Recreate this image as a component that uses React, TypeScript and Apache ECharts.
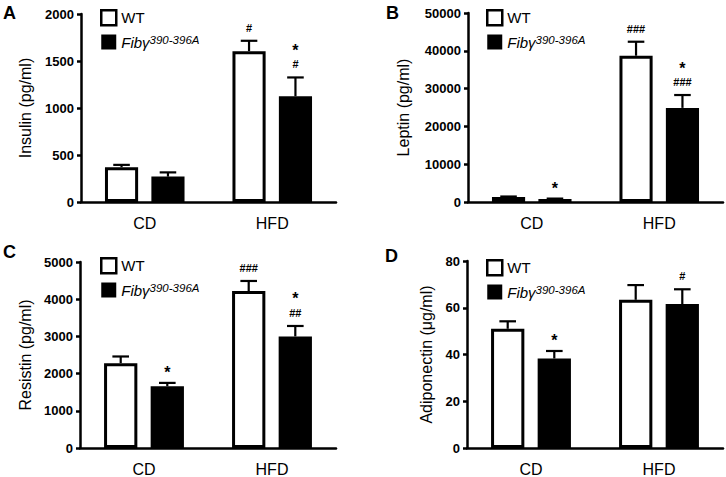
import React, { useEffect, useRef } from "react";
import * as echarts from "echarts";

const categories = ["CD", "HFD"];
const seriesNames = ["WT", "Fibγ390-396A"];

// Panel A – Insulin
const insulinWT = [370, 1605];
const insulinWTErr = [25, 110];
const insulinFib = [270, 1125];
const insulinFibErr = [45, 200];
const insulinWTSig = [[], ["#"]];
const insulinFibSig = [[], ["#", "*"]];

// Panel B – Leptin
const leptinWT = [1300, 38700];
const leptinWTErr = [150, 3700];
const leptinFib = [800, 24900];
const leptinFibErr = [100, 3400];
const leptinWTSig = [[], ["###"]];
const leptinFibSig = [["*"], ["###", "*"]];

// Panel C – Resistin
const resistinWT = [2280, 4220];
const resistinWTErr = [180, 270];
const resistinFib = [1660, 3000];
const resistinFibErr = [90, 280];
const resistinWTSig = [[], ["###"]];
const resistinFibSig = [["*"], ["##", "*"]];

// Panel D – Adiponectin
const adipoWT = [51, 63.4];
const adipoWTErr = [3.2, 6.3];
const adipoFib = [38.3, 61.6];
const adipoFibErr = [3.2, 6.3];
const adipoWTSig = [[], []];
const adipoFibSig = [["*"], ["#"]];

const yTitles = ["Insulin (pg/ml)", "Leptin (pg/ml)", "Resistin (pg/ml)", "Adiponectin (μg/ml)"];
const yMax = [2000, 50000, 5000, 80];
const yInterval = [500, 10000, 1000, 20];
const panelLetters = ["A", "B", "C", "D"];

const FONT = "'Liberation Sans', Arial, Helvetica, sans-serif";
const BAR_FRAC = 0.26;
const GAP_FRAC = 0.4;

const panels = [
  { wt: insulinWT, wtErr: insulinWTErr, fib: insulinFib, fibErr: insulinFibErr, wtSig: insulinWTSig, fibSig: insulinFibSig },
  { wt: leptinWT, wtErr: leptinWTErr, fib: leptinFib, fibErr: leptinFibErr, wtSig: leptinWTSig, fibSig: leptinFibSig },
  { wt: resistinWT, wtErr: resistinWTErr, fib: resistinFib, fibErr: resistinFibErr, wtSig: resistinWTSig, fibSig: resistinFibSig },
  { wt: adipoWT, wtErr: adipoWTErr, fib: adipoFib, fibErr: adipoFibErr, wtSig: adipoWTSig, fibSig: adipoFibSig },
];

const layout = [
  { grid: { left: 81, top: 14, width: 255, height: 188 }, legend: { left: 100, top: 9 }, title: { left: 3, top: 4 }, nameGap: 48 },
  { grid: { left: 468, top: 13, width: 255, height: 189 }, legend: { left: 486, top: 9 }, title: { left: 386, top: 4 }, nameGap: 57 },
  { grid: { left: 80, top: 262, width: 256, height: 188 }, legend: { left: 100, top: 257 }, title: { left: 3, top: 243 }, nameGap: 47 },
  { grid: { left: 467, top: 261, width: 256, height: 189 }, legend: { left: 486, top: 259 }, title: { left: 385, top: 247 }, nameGap: 33 },
];

function makeErrorRender(sign: number, sigs: string[][]) {
  return (params: any, api: any) => {
    const cat = api.value(0);
    const v = api.value(1);
    const e = api.value(2);
    const center = api.coord([cat, 0])[0];
    const band = api.size([1, 0])[0];
    const barW = band * BAR_FRAC;
    const x = center + (sign * barW * (1 + GAP_FRAC)) / 2;
    const yTop = api.coord([cat, v])[1];
    const yCap = api.coord([cat, v + e])[1];
    const capHalf = barW / 4;
    const children: any[] = [
      { type: "line", shape: { x1: x, y1: yTop, x2: x, y2: yCap }, style: { stroke: "#000", lineWidth: 2.2 } },
      { type: "line", shape: { x1: x - capHalf, y1: yCap, x2: x + capHalf, y2: yCap }, style: { stroke: "#000", lineWidth: 2.2 } },
    ];
    const marks = sigs[params.dataIndex] || [];
    marks.forEach((m, i) => {
      const isStar = m === "*";
      const y = yCap - 13 - i * 17 + (isStar ? 3 : 0);
      children.push({
        type: "text",
        x,
        y,
        style: {
          text: m,
          fill: "#000",
          fontFamily: FONT,
          fontWeight: "bold",
          fontSize: isStar ? 16 : 11,
          align: "center",
          verticalAlign: "middle",
        },
      });
    });
    return { type: "group", children };
  };
}

export default function App() {
  const ref = useRef<HTMLDivElement>(null);
  useEffect(() => {
    if (!ref.current) return;
    const chart = echarts.init(ref.current, undefined, { renderer: "svg" });

    const grids: any[] = [];
    const xAxes: any[] = [];
    const yAxes: any[] = [];
    const legends: any[] = [];
    const titles: any[] = [];
    const series: any[] = [];

    panels.forEach((p, i) => {
      const L = layout[i];
      grids.push({ ...L.grid });
      titles.push({
        text: panelLetters[i],
        left: L.title.left,
        top: L.title.top,
        padding: 0,
        textStyle: { fontFamily: FONT, fontWeight: "bold", fontSize: 18, color: "#000" },
      });
      xAxes.push({
        type: "category",
        gridIndex: i,
        data: categories,
        axisLine: { lineStyle: { color: "#000", width: 2.5 } },
        axisTick: { alignWithLabel: true, length: 6, lineStyle: { color: "#000", width: 2.5 } },
        axisLabel: { fontFamily: FONT, fontSize: 16, color: "#000", margin: 13 },
      });
      yAxes.push({
        type: "value",
        gridIndex: i,
        min: 0,
        max: yMax[i],
        interval: yInterval[i],
        name: yTitles[i],
        nameLocation: "middle",
        nameGap: L.nameGap,
        nameTextStyle: { fontFamily: FONT, fontSize: 16, color: "#000" },
        axisLine: { show: true, lineStyle: { color: "#000", width: 2.5 } },
        axisTick: { show: true, length: 4, lineStyle: { color: "#000", width: 2.5 } },
        axisLabel: {
          fontFamily: FONT,
          fontSize: 13,
          fontWeight: "bold",
          color: "#000",
          margin: 7,
          formatter: (v: number) => String(v),
        },
        splitLine: { show: false },
      });
      legends.push({
        orient: "vertical",
        left: L.legend.left,
        top: L.legend.top,
        padding: 0,
        itemWidth: 15,
        itemHeight: 15,
        itemGap: 7,
        selectedMode: false,
        data: [
          { name: seriesNames[0], icon: "rect", itemStyle: { color: "#fff", borderColor: "#000", borderWidth: 2.5 } },
          { name: seriesNames[1], icon: "rect", itemStyle: { color: "#000", borderWidth: 0 } },
        ],
        formatter: (name: string) => (name === seriesNames[0] ? "WT" : "{i|Fibγ}{s|390-396A}"),
        textStyle: {
          fontFamily: FONT,
          color: "#000",
          fontSize: 15,
          fontWeight: "normal",
          textBorderWidth: 0,
          textBorderColor: "transparent",
          rich: {
            i: { fontFamily: FONT, fontSize: 15, fontWeight: "normal", fontStyle: "italic", color: "#000", lineHeight: 17, textBorderWidth: 0 },
            s: {
              fontFamily: FONT,
              fontSize: 11.5,
              fontWeight: "normal",
              fontStyle: "italic",
              color: "#000",
              verticalAlign: "top",
              lineHeight: 9,
              textBorderWidth: 0,
            },
          },
        },
      });
      series.push({
        type: "bar",
        name: seriesNames[0],
        xAxisIndex: i,
        yAxisIndex: i,
        data: p.wt,
        barWidth: BAR_FRAC * 100 + "%",
        barGap: GAP_FRAC * 100 + "%",
        itemStyle: { color: "#fff", borderColor: "#000", borderWidth: 3 },
      });
      series.push({
        type: "bar",
        name: seriesNames[1],
        xAxisIndex: i,
        yAxisIndex: i,
        data: p.fib,
        barWidth: BAR_FRAC * 100 + "%",
        barGap: GAP_FRAC * 100 + "%",
        itemStyle: { color: "#000", borderColor: "#000", borderWidth: 0 },
      });
      series.push({
        type: "custom",
        xAxisIndex: i,
        yAxisIndex: i,
        z: 5,
        renderItem: makeErrorRender(-1, p.wtSig),
        data: p.wt.map((v, k) => [k, v, p.wtErr[k]]),
        encode: { x: 0, y: [1, 2] },
        silent: true,
      });
      series.push({
        type: "custom",
        xAxisIndex: i,
        yAxisIndex: i,
        z: 5,
        renderItem: makeErrorRender(1, p.fibSig),
        data: p.fib.map((v, k) => [k, v, p.fibErr[k]]),
        encode: { x: 0, y: [1, 2] },
        silent: true,
      });
    });

    chart.setOption({
      animation: false,
      backgroundColor: "#fff",
      title: titles,
      grid: grids,
      xAxis: xAxes,
      yAxis: yAxes,
      legend: legends,
      series,
    });
    return () => chart.dispose();
  }, []);

  return (
    <div
      ref={ref}
      style={{ position: "fixed", left: 0, top: 0, width: 726, height: 477, background: "#fff" }}
    />
  );
}
